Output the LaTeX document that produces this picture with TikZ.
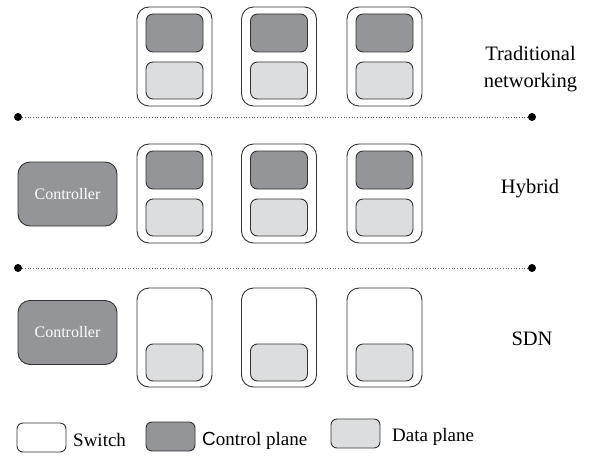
\documentclass[tikz,border=0pt]{standalone}
\usepackage{fontspec}
\setmainfont{Liberation Serif}
\newfontfamily\serifx{Liberation Serif}
\newfontfamily\legsans{Liberation Sans}
\definecolor{ctrlgray}{HTML}{939598}
\definecolor{datagray}{HTML}{DCDDDE}
\definecolor{edgegray}{HTML}{333333}
\begin{document}
\begin{tikzpicture}[x=1pt,y=-1pt,
  switchbox/.style={draw=edgegray,line width=0.9pt,fill=white,rounded corners=12pt,minimum width=75pt,minimum height=99pt,inner sep=0pt},
  ctrlbox/.style={draw=edgegray,line width=0.9pt,fill=ctrlgray,rounded corners=7pt,minimum width=57pt,minimum height=38pt,inner sep=0pt},
  databox/.style={draw=edgegray,line width=0.9pt,fill=datagray,rounded corners=7pt,minimum width=57pt,minimum height=37pt,inner sep=0pt},
  controller/.style={draw=edgegray,line width=0.9pt,fill=ctrlgray,rounded corners=12pt,minimum width=99pt,minimum height=64pt,inner sep=0pt,text=white,font=\serifx\fontsize{16}{18}\selectfont},
  legbox/.style={draw=edgegray,line width=0.9pt,rounded corners=6pt,minimum width=49pt,minimum height=29pt,inner sep=0pt},
  label/.style={font=\serifx\fontsize{20.5}{24}\selectfont,anchor=base,inner sep=0pt},
  legtext/.style={font=\serifx\fontsize{19}{22}\selectfont,anchor=base west,inner sep=0pt},
  sep/.style={draw=gray!80!black,line width=0.7pt,dotted},
  dot/.style={fill=black,circle,minimum size=8pt,inner sep=0pt}
]
\useasboundingbox (0,0) rectangle (594,460);

% Row 1: traditional
\foreach \i/\x in {1/174.5,2/279,3/384.5}{
  \node[switchbox] (sa\i) at (\x,56.5) {};
  \node[ctrlbox] (ca\i) at (\x,33) {};
  \node[databox] (da\i) at (\x,80.5) {};
}
% Row 2: hybrid
\node[controller] (ctlb) at (67.5,194) {Controller};
\foreach \i/\x in {1/174.5,2/279,3/384.5}{
  \node[switchbox] (sb\i) at (\x,193.5) {};
  \node[ctrlbox] (cb\i) at (\x,170) {};
  \node[databox] (db\i) at (\x,217.5) {};
}
% Row 3: SDN
\node[controller] (ctlc) at (67.5,332.5) {Controller};
\foreach \i/\x in {1/174.5,2/279,3/384.5}{
  \node[switchbox] (sc\i) at (\x,337.5) {};
  \node[databox] (dc\i) at (\x,362.5) {};
}

% separators
\node[dot] (l1a) at (18,117) {};
\node[dot] (l1b) at (532,117) {};
\draw[sep] (l1a) -- (l1b);
\node[dot] (l2a) at (18,268) {};
\node[dot] (l2b) at (532,268) {};
\draw[sep] (l2a) -- (l2b);

% labels
\node[label] (trad1) at (530.5,61) {Traditional};
\node[label] (trad2) at (530.5,87) {networking};
\node[label] (hyb) at (530,193) {Hybrid};
\node[label] (sdn) at (532,345) {SDN};

% legend
\node[legbox,fill=white] (lgs) at (41.5,437.5) {};
\node[legtext] (lgst) at (73,446) {Switch};
\node[legbox,fill=ctrlgray] (lgc) at (170.5,436.5) {};
\node[legtext] (lgct) at (202,445) {{\legsans C}ontrol plane};
\node[legbox,fill=datagray] (lgd) at (355.5,433.5) {};
\node[legtext] (lgdt) at (392,441) {Data plane};
\end{tikzpicture}
\end{document}
